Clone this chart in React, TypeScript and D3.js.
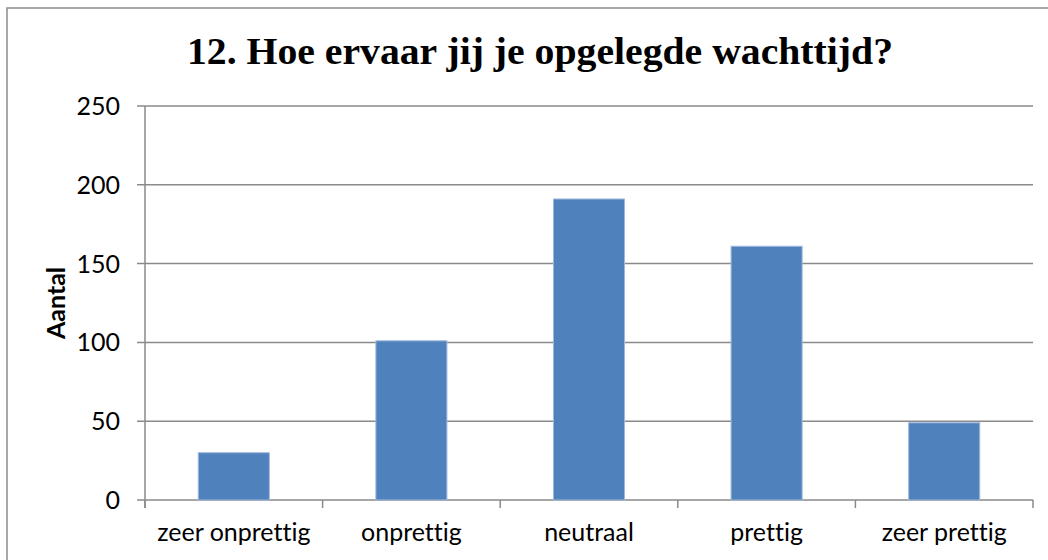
import React, { useRef, useEffect } from "react";
import * as d3 from "d3";

const categories = ["zeer onprettig", "onprettig", "neutraal", "prettig", "zeer prettig"];
const counts = [30, 101, 191, 161, 49];
const yTicks = [0, 50, 100, 150, 200, 250];
const title = "12. Hoe ervaar jij je opgelegde wachttijd?";
const yLabel = "Aantal";

const W = 1048;
const H = 560;

export default function App() {
  const svgRef = useRef<SVGSVGElement>(null);

  useEffect(() => {
    if (!svgRef.current) return;
    const svg = d3.select(svgRef.current);
    svg.selectAll("*").remove();

    const plot = { left: 145, right: 1033, top: 106, bottom: 500 };
    const font = "Lato, 'Open Sans', sans-serif";

    // outer chart frame (runs off the right/bottom edges)
    svg.append("rect")
      .attr("x", 7).attr("y", 8)
      .attr("width", W + 20).attr("height", H + 20)
      .attr("fill", "#fff")
      .attr("stroke", "#8c8c8c")
      .attr("stroke-width", 1.5);

    const x = d3.scaleBand().domain(categories).range([plot.left, plot.right]);
    const y = d3.scaleLinear().domain([0, 250]).range([plot.bottom, plot.top]);

    const grid = "#8a8a8a";

    // gridlines + y ticks
    svg.append("g").selectAll("line").data(yTicks).join("line")
      .attr("x1", plot.left - 8).attr("x2", plot.right)
      .attr("y1", d => y(d)).attr("y2", d => y(d))
      .attr("stroke", grid).attr("stroke-width", 1.5);

    svg.append("g").selectAll("text").data(yTicks).join("text")
      .attr("x", 120).attr("y", d => y(d))
      .attr("dy", "0.36em")
      .attr("text-anchor", "end")
      .attr("font-family", font)
      .attr("font-size", 25)
      .attr("fill", "#000")
      .text(d => d);

    // y axis line
    svg.append("line")
      .attr("x1", plot.left).attr("x2", plot.left)
      .attr("y1", plot.top).attr("y2", plot.bottom + 8)
      .attr("stroke", grid).attr("stroke-width", 1.5);

    // x ticks at category boundaries
    const bounds = [...categories.map(c => x(c)!), plot.right];
    svg.append("g").selectAll("line").data(bounds).join("line")
      .attr("x1", d => d).attr("x2", d => d)
      .attr("y1", plot.bottom).attr("y2", plot.bottom + 8)
      .attr("stroke", grid).attr("stroke-width", 1.5);

    // bars
    const barW = x.bandwidth() * 0.4;
    svg.append("g").selectAll("rect").data(counts).join("rect")
      .attr("x", (d, i) => x(categories[i])! + x.bandwidth() / 2 - barW / 2)
      .attr("y", d => y(d))
      .attr("width", barW)
      .attr("height", d => y(0) - y(d))
      .attr("fill", "#4f81bd")
      .attr("stroke", "#9fb8db")
      .attr("stroke-width", 1);

    // category labels
    svg.append("g").selectAll("text").data(categories).join("text")
      .attr("x", d => x(d)! + x.bandwidth() / 2)
      .attr("y", 541)
      .attr("text-anchor", "middle")
      .attr("font-family", font)
      .attr("font-size", 25)
      .style("font-variant-ligatures", "none")
      .attr("fill", "#000")
      .text(d => d);

    // y axis title
    svg.append("text")
      .attr("transform", `translate(65,${(plot.top + plot.bottom) / 2}) rotate(-90)`)
      .attr("text-anchor", "middle")
      .attr("font-family", font)
      .attr("font-weight", "bold")
      .attr("font-size", 25)
      .attr("fill", "#000")
      .text(yLabel);

    // chart title
    svg.append("text")
      .attr("x", 540).attr("y", 64)
      .attr("text-anchor", "middle")
      .attr("font-family", "'Liberation Serif', 'DejaVu Serif', serif")
      .attr("font-weight", "bold")
      .attr("font-size", 37)
      .attr("textLength", 706)
      .attr("lengthAdjust", "spacingAndGlyphs")
      .attr("fill", "#000")
      .text(title);
  }, []);

  return (
    <svg
      ref={svgRef}
      width={W}
      height={H}
      style={{ position: "absolute", left: 0, top: 0, background: "#fff" }}
    />
  );
}
